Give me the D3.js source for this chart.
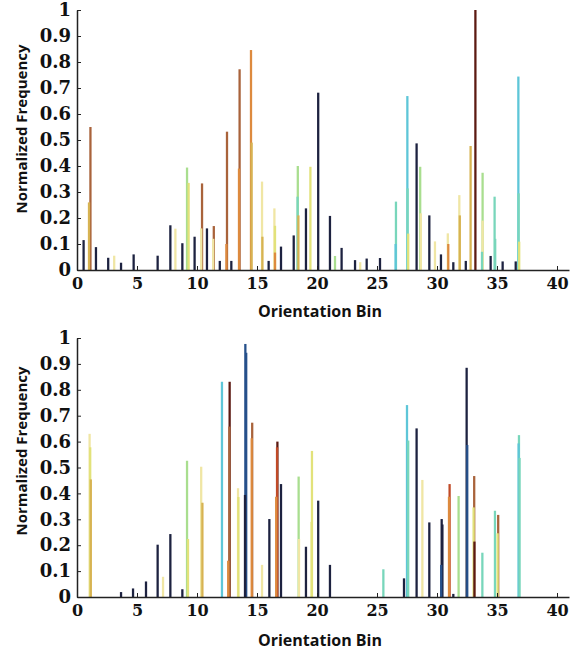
<!DOCTYPE html>
<html>
<head>
<meta charset="utf-8">
<script src="https://cdn.jsdelivr.net/npm/d3@7"></script>
<style>
  body { margin: 0; background: #fff; }
  svg { display: block; }
  .tick text { font-family: "DejaVu Serif", serif; font-weight: bold; fill: #111; }
  .title { font-family: "Open Sans", sans-serif; font-weight: bold; fill: #111; }
</style>
</head>
<body>
<svg id="chart" width="581" height="650"></svg>
<script>
// bin position / normalized frequency, grouped by bar colour
var xTicks = [0, 5, 10, 15, 20, 25, 30, 35, 40];
var yTicks = [0, 0.1, 0.2, 0.3, 0.4, 0.5, 0.6, 0.7, 0.8, 0.9, 1];

var topNavy = [[0.55,0.115],[1.58,0.088],[2.6,0.047],[3.67,0.028],[4.72,0.06],[6.72,0.055],[7.78,0.172],
  [8.78,0.103],[9.8,0.128],[10.83,0.16],[11.9,0.035],[12.86,0.035],[15.97,0.035],[17.0,0.09],[18.06,0.133],
  [19.08,0.237],[20.1,0.682],[21.08,0.208],[22.05,0.085],[23.17,0.038],[24.14,0.044],[25.25,0.046],
  [28.3,0.487],[29.36,0.21],[30.33,0.06],[31.36,0.03],[32.4,0.035],[34.47,0.054],[35.47,0.033],[36.56,0.033]];
var topBrown = [[1.12,0.55],[10.42,0.333],[11.4,0.169],[12.5,0.532],[13.55,0.772]];
var topOrange = [[14.5,0.846],[12.45,0.1],[13.5,0.39],[16.5,0.067],[30.94,0.1]];
var topGold = [[1.0,0.26],[14.55,0.49],[15.45,0.128],[18.45,0.21],[32.8,0.477],[31.9,0.21]];
var topPale = [[3.1,0.055],[8.2,0.159],[10.35,0.16],[11.35,0.12],[15.42,0.34],[16.45,0.237],[23.6,0.03],
  [28.65,0.218],[29.83,0.11],[30.9,0.141],[31.86,0.288],[33.8,0.19]];
var topYellow = [[9.3,0.335],[19.45,0.397],[27.6,0.14],[36.85,0.109],[16.5,0.17]];
var topGreen = [[9.17,0.394],[18.4,0.4],[21.5,0.054],[28.6,0.397],[33.8,0.374]];
var topTeal = [[18.38,0.282],[26.58,0.263],[27.55,0.314],[33.75,0.07],[34.8,0.282],[34.85,0.12],[36.8,0.295]];
var topCyan = [[26.55,0.1],[27.53,0.669],[36.78,0.744]];
var topMaroon = [[33.2,1.0]];

var botNavy = [[3.67,0.019],[4.67,0.033],[5.75,0.06],[6.72,0.202],[7.78,0.243],[8.78,0.03],[14.0,0.394],
  [16.03,0.301],[17.0,0.436],[19.08,0.194],[20.1,0.372],[21.08,0.124],[27.25,0.072],[28.3,0.651],
  [29.36,0.288],[30.39,0.301],[30.45,0.28],[31.36,0.012],[32.47,0.885]];
var botBlue = [[14.03,0.977],[14.1,0.943],[30.35,0.124],[32.52,0.587]];
var botCyan = [[12.08,0.831],[27.5,0.741],[36.8,0.593]];
var botTeal = [[25.53,0.107],[27.6,0.604],[33.78,0.171],[34.83,0.333],[36.83,0.625],[36.88,0.537]];
var botGreen = [[9.17,0.526],[18.47,0.465],[31.8,0.39]];
var botPale = [[1.05,0.63],[7.17,0.078],[10.35,0.503],[13.42,0.42],[15.42,0.124],[18.5,0.224],[28.78,0.452]];
var botYellow = [[1.1,0.578],[9.25,0.224],[13.45,0.386],[19.58,0.564],[19.55,0.29],[33.05,0.346],[35.05,0.246]];
var botGold = [[1.15,0.454],[10.45,0.364]];
var botOrange = [[12.6,0.14],[14.56,0.613],[16.6,0.387],[31.0,0.387]];
var botBrown = [[12.7,0.658],[14.6,0.673],[33.1,0.467],[35.1,0.317]];
var botRed = [[16.67,0.578],[31.05,0.436]];
var botMaroon = [[12.72,0.831],[16.7,0.6],[33.12,0.214]];

var colours = {
  navy: "#1d2240", blue: "#26508a", cyan: "#5ec6d8", teal: "#78d6bb", green: "#a9de8f",
  yellow: "#e2e27a", pale: "#f0e6a4", gold: "#d7b352", orange: "#dd8a3e", brown: "#a9633b",
  red: "#c04a27", maroon: "#5c1a12"
};

var panels = [
  { top: 10, bottom: 270, xTitle: 311, yTitle: 129,
    series: { navy: topNavy, brown: topBrown, orange: topOrange, gold: topGold, pale: topPale,
      yellow: topYellow, green: topGreen, teal: topTeal, cyan: topCyan, maroon: topMaroon } },
  { top: 338, bottom: 597, xTitle: 640, yTitle: 451,
    series: { navy: botNavy, blue: botBlue, cyan: botCyan, teal: botTeal, green: botGreen, pale: botPale,
      yellow: botYellow, gold: botGold, orange: botOrange, brown: botBrown, red: botRed, maroon: botMaroon } }
];

var svg = d3.select("#chart");
var x = d3.scaleLinear().domain([0, 41]).range([77, 569]);
var barW = 0.19;

panels.forEach(function(p) {
  var y = d3.scaleLinear().domain([0, 1]).range([p.bottom, p.top]);
  var g = svg.append("g");

  var bars = [];
  Object.keys(p.series).forEach(function(k) {
    p.series[k].forEach(function(d) { bars.push({pos: d[0], val: d[1], col: colours[k]}); });
  });
  bars.sort(function(a, b) { return b.val - a.val; }); // short bars in front

  g.append("g").selectAll("rect")
    .data(bars)
    .enter().append("rect")
    .attr("x", function(d) { return x(d.pos - barW / 2); })
    .attr("y", function(d) { return y(d.val); })
    .attr("width", x(barW) - x(0))
    .attr("height", function(d) { return y(0) - y(d.val); })
    .attr("fill", function(d) { return d.col; });

  var xa = g.append("g")
    .attr("transform", "translate(0," + p.bottom + ")")
    .call(d3.axisBottom(x).tickValues(xTicks).tickFormat(d3.format("d"))
      .tickSizeInner(-4).tickSizeOuter(0).tickPadding(8));
  xa.selectAll(".tick text").style("font-size", "16px");

  var ya = g.append("g")
    .attr("transform", "translate(77,0)")
    .call(d3.axisLeft(y).tickValues(yTicks).tickFormat(function(d) { return d === 0 || d === 1 ? d : d3.format(".1f")(d); })
      .tickSizeInner(-4).tickSizeOuter(0).tickPadding(6));
  ya.selectAll(".tick text").style("font-size", "18px");

  g.selectAll(".domain").attr("stroke", "#222").attr("stroke-width", 1.5);
  g.selectAll(".tick line").attr("stroke", "#222");

  g.append("text").attr("class", "title")
    .attr("x", 320).attr("y", p.xTitle).attr("dy", "0.35em")
    .attr("text-anchor", "middle").style("font-size", "16px")
    .text("Orientation Bin");

  g.append("text").attr("class", "title")
    .attr("transform", "translate(22," + p.yTitle + ") rotate(-90)")
    .attr("dy", "0.35em").attr("text-anchor", "middle").style("font-size", "15px")
    .text("Normalized Frequency");
});
</script>
</body>
</html>
